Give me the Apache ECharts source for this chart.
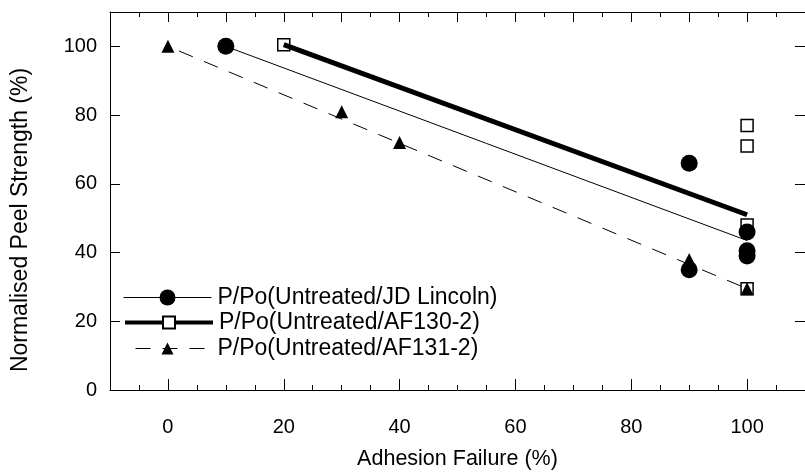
<!DOCTYPE html>
<html>
<head>
<meta charset="utf-8">
<script src="https://cdn.jsdelivr.net/npm/echarts@6/dist/echarts.min.js"></script>
<style>
html,body{margin:0;padding:0;background:#fff;}
#chart{width:805px;height:476px;}
</style>
</head>
<body>
<div id="chart"></div>
<script>
// ---- data ----
const xTickLabels = [0, 20, 40, 60, 80, 100];
const yTickLabels = [0, 20, 40, 60, 80, 100];

const jdName = 'P/Po(Untreated/JD Lincoln)';
const jdX = [10, 90, 90, 100, 100, 100];
const jdY = [100, 66, 35, 46, 40.5, 39];
const jdFitX = [10, 100];
const jdFitY = [100, 43.5];

const af130Name = 'P/Po(Untreated/AF130-2)';
const af130X = [20, 100, 100, 100, 100];
const af130Y = [100.5, 77, 71, 48, 29.5];
const af130FitX = [20, 100];
const af130FitY = [100.5, 51];

const af131Name = 'P/Po(Untreated/AF131-2)';
const af131X = [0, 30, 40, 90, 100];
const af131Y = [100, 81, 72, 38, 29.5];
const af131FitX = [0, 100];
const af131FitY = [100, 29.5];

const pairs = (xs, ys) => xs.map((x, i) => [x, ys[i]]);

const FONT = 'Liberation Sans, Arial, sans-serif';
const BLACK = '#000';

const chart = echarts.init(document.getElementById('chart'), null, {renderer: 'canvas'});

const xBase = {
  type: 'value', min: -10, max: 110, gridIndex: 0,
  splitLine: {show: false}
};
const yBase = {
  type: 'value', min: 0, max: 110, gridIndex: 0,
  splitLine: {show: false}
};

const legendCommon = {
  orient: 'vertical',
  left: 123,
  itemWidth: 88,
  itemGap: 0,
  padding: 0,
  selectedMode: false,
  textStyle: {fontFamily: FONT, fontSize: 23, color: BLACK, padding: [0, 0, 0, 1]}
};

const option = {
  backgroundColor: '#fff',
  animation: false,
  grid: {left: 110, right: -9, top: 12, bottom: 86, containLabel: false},
  xAxis: [
    Object.assign({}, xBase, {
      position: 'bottom', interval: 10,
      name: 'Adhesion Failure (%)', nameLocation: 'middle', nameGap: 58,
      nameTextStyle: {fontFamily: FONT, fontSize: 21.5, color: BLACK},
      axisLine: {show: true, onZero: false, lineStyle: {color: BLACK, width: 1}},
      axisTick: {show: true, inside: true, length: 11, customValues: xTickLabels, lineStyle: {color: BLACK}},
      axisLabel: {show: true, customValues: xTickLabels, margin: 27, fontFamily: FONT, fontSize: 20, color: BLACK}
    }),
    Object.assign({}, xBase, {
      position: 'bottom', interval: 5,
      axisLine: {show: false, onZero: false},
      axisTick: {show: true, inside: true, length: 5, lineStyle: {color: BLACK}},
      axisLabel: {show: false}
    }),
    Object.assign({}, xBase, {
      position: 'top', interval: 10,
      axisLine: {show: true, onZero: false, lineStyle: {color: BLACK, width: 1}},
      axisTick: {show: true, inside: true, length: 10, lineStyle: {color: BLACK}},
      minorTick: {show: true, splitNumber: 2, length: 5, lineStyle: {color: BLACK}},
      axisLabel: {show: false}
    })
  ],
  yAxis: [
    Object.assign({}, yBase, {
      position: 'left', interval: 20,
      name: 'Normalised Peel Strength (%)', nameLocation: 'middle', nameGap: 78,
      nameTextStyle: {fontFamily: FONT, fontSize: 23, color: BLACK, padding: [0, 38, 0, 0]},
      axisLine: {show: true, onZero: false, lineStyle: {color: BLACK, width: 1}},
      axisTick: {show: true, inside: true, length: 10, lineStyle: {color: BLACK}},
      axisLabel: {show: true, customValues: yTickLabels, margin: 13, fontFamily: FONT, fontSize: 20, color: BLACK}
    }),
    Object.assign({}, yBase, {
      position: 'right', interval: 20,
      axisLine: {show: true, onZero: false, lineStyle: {color: BLACK, width: 1}},
      axisTick: {show: true, inside: true, length: 10, lineStyle: {color: BLACK}},
      axisLabel: {show: false}
    })
  ],
  legend: [
    Object.assign({}, legendCommon, {top: 286, itemHeight: 20, lineStyle: {width: 1}, itemStyle: {opacity: 1}, data: [jdName]}),
    Object.assign({}, legendCommon, {top: 311, itemHeight: 15, lineStyle: {width: 4}, itemStyle: {opacity: 1}, data: [af130Name]}),
    Object.assign({}, legendCommon, {top: 337, itemHeight: 15, lineStyle: {width: 1}, itemStyle: {opacity: 1}, data: [af131Name]})
  ],
  series: [
    {
      name: jdName, type: 'line', data: pairs(jdFitX, jdFitY),
      xAxisIndex: 0, yAxisIndex: 0,
      symbol: 'circle', showSymbol: false, silent: true,
      lineStyle: {color: BLACK, width: 1},
      itemStyle: {color: BLACK, opacity: 1}, z: 2
    },
    {
      name: af130Name, type: 'line', data: pairs(af130FitX, af130FitY),
      xAxisIndex: 0, yAxisIndex: 0,
      symbol: 'emptyRect', showSymbol: false, silent: true,
      lineStyle: {color: BLACK, width: 5},
      itemStyle: {color: BLACK, opacity: 1}, z: 2
    },
    {
      name: af131Name, type: 'line', data: pairs(af131FitX, af131FitY),
      xAxisIndex: 0, yAxisIndex: 0,
      symbol: 'triangle', showSymbol: false, silent: true,
      lineStyle: {color: BLACK, width: 1, type: [15, 12], dashOffset: -12},
      itemStyle: {color: BLACK, opacity: 1}, z: 2
    },
    {
      name: 'af130-points', type: 'scatter', data: pairs(af130X, af130Y),
      xAxisIndex: 0, yAxisIndex: 0,
      symbol: 'rect', symbolSize: 12,
      itemStyle: {color: 'rgba(255,255,255,0)', borderColor: BLACK, borderWidth: 1.5, opacity: 1}, z: 3
    },
    {
      name: 'jd-points', type: 'scatter', data: pairs(jdX, jdY),
      xAxisIndex: 0, yAxisIndex: 0,
      symbol: 'circle', symbolSize: 17,
      itemStyle: {color: BLACK, opacity: 1}, z: 4
    },
    {
      name: 'af131-points', type: 'scatter', data: pairs(af131X, af131Y),
      xAxisIndex: 0, yAxisIndex: 0,
      symbol: 'triangle', symbolSize: 13,
      itemStyle: {color: BLACK, opacity: 1}, z: 5
    }
  ]
};

chart.setOption(option);
</script>
</body>
</html>
